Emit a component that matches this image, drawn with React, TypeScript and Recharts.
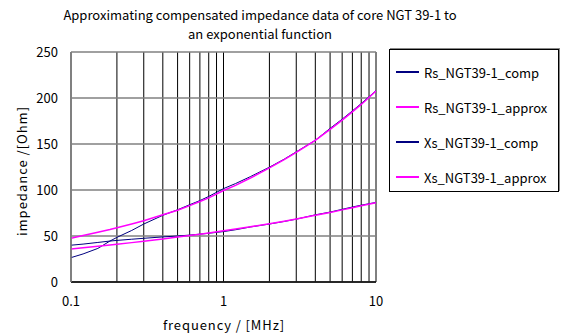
import React from 'react';
import { LineChart, Line, XAxis, YAxis, CartesianGrid } from 'recharts';

const frequencies = [0.1, 0.12, 0.15, 0.18, 0.2, 0.25, 0.3, 0.4, 0.5, 0.6, 0.7, 0.8, 1, 1.2, 1.5, 2, 2.5, 3, 4, 5, 6, 7, 8, 10];
const rsComp = [26.5, 30.5, 36.5, 44.5, 48.5, 56, 63, 72.5, 78.5, 84, 88.5, 93, 101.5, 107, 114.5, 124.8, 133.5, 141.5, 154, 167, 177, 186, 194, 208];
const rsApprox = [47.5, 50.5, 54, 57, 59, 63, 66.5, 73, 78, 83, 87.5, 91.5, 99.5, 105, 113, 124, 133, 141, 154, 166, 176, 185, 193, 207.5];
const xsComp = [40, 41.2, 43, 44.5, 45.2, 46.5, 47.5, 49, 50, 51, 52, 53, 54.8, 56.8, 59.8, 63, 65.8, 68.3, 73, 76, 79, 81.5, 83.5, 86.5];
const xsApprox = [35.8, 37.3, 38.9, 40.2, 41.0, 42.8, 44.3, 46.8, 48.8, 50.5, 52.0, 53.3, 55.6, 57.5, 60.0, 63.4, 66.1, 68.4, 72.5, 75.6, 78.4, 80.8, 82.8, 86.2];

const xGridTicks = [0.1, 0.2, 0.3, 0.4, 0.5, 0.6, 0.7, 0.8, 0.9, 1, 2, 3, 4, 5, 6, 7, 8, 9, 10];
const xMajorTicks = [0.1, 1, 10];
const xTickLabels = ['0.1', '1', '10'];
const yTicks = [0, 50, 100, 150, 200, 250];

const seriesNames = ['Rs_NGT39-1_comp', 'Rs_NGT39-1_approx', 'Xs_NGT39-1_comp', 'Xs_NGT39-1_approx'];
const seriesKeys = ['rsComp', 'rsApprox', 'xsComp', 'xsApprox'];
const seriesColors = ['#000080', '#FF00FF', '#000080', '#FF00FF'];
const seriesWidths = [1, 1.5, 1, 1.5];

const titleLines = ['Approximating compensated impedance data of core NGT 39-1 to', 'an exponential function'];
const xLabel = 'frequency / [MHz]';
const yLabel = 'impedance /[Ohm]';

const data = frequencies.map((f, i) => ({
  f,
  rsComp: rsComp[i],
  rsApprox: rsApprox[i],
  xsComp: xsComp[i],
  xsApprox: xsApprox[i],
}));

const FONT = '"Noto Sans CJK JP", "Noto Sans", sans-serif';

const fmtX = (v: number) => {
  const idx = xMajorTicks.findIndex((m) => Math.abs(m - v) < 1e-9);
  return idx >= 0 ? xTickLabels[idx] : '';
};

const drawOrder = [0, 2, 1, 3];

export default function App() {
  return (
    <div style={{ position: 'absolute', left: 0, top: 0, width: 567, height: 336, background: '#fff', fontFamily: FONT, color: '#000' }}>
      <LineChart width={567} height={336} data={data} margin={{ top: 52, right: 191, bottom: 24, left: 11 }}>
        <CartesianGrid horizontal={false} stroke="#000" strokeWidth={1} />
        <CartesianGrid vertical={false} stroke="#808080" strokeWidth={1.5} />
        <XAxis
          dataKey="f"
          type="number"
          scale="log"
          domain={[0.1, 10]}
          ticks={xGridTicks}
          interval={0}
          tickFormatter={fmtX}
          tickLine={false}
          tickSize={6}
          tickMargin={9}
          height={30}
          allowDataOverflow
          axisLine={{ stroke: '#000', strokeWidth: 1.5 }}
          tick={{ fill: '#000', fontSize: 13, fontFamily: FONT }}
        />
        <YAxis
          type="number"
          domain={[0, 250]}
          ticks={yTicks}
          interval={0}
          width={60}
          tickLine={false}
          tickSize={6}
          tickMargin={7}
          axisLine={{ stroke: '#808080', strokeWidth: 1.5 }}
          tick={{ fill: '#000', fontSize: 13, fontFamily: FONT }}
        />
        {drawOrder.map((i) => (
          <Line
            key={seriesKeys[i]}
            dataKey={seriesKeys[i]}
            name={seriesNames[i]}
            type="linear"
            stroke={seriesColors[i]}
            strokeWidth={seriesWidths[i]}
            dot={false}
            activeDot={false}
            isAnimationActive={false}
          />
        ))}
      </LineChart>

      {titleLines.map((t, i) => (
        <div
          key={i}
          style={{ position: 'absolute', left: 60, width: 400, top: 6 + i * 19, textAlign: 'center', fontSize: 13, lineHeight: '18px', whiteSpace: 'nowrap' }}
        >
          {t}
        </div>
      ))}

      <div style={{ position: 'absolute', left: 124, width: 200, top: 316, textAlign: 'center', fontSize: 13, letterSpacing: 0.9, lineHeight: '18px', whiteSpace: 'nowrap' }}>{xLabel}</div>

      <div
        style={{ position: 'absolute', left: 22 - 100, top: 171 - 9, width: 200, height: 18, textAlign: 'center', fontSize: 13, letterSpacing: 1, lineHeight: '18px', whiteSpace: 'nowrap', transform: 'rotate(-90deg)' }}
      >
        {yLabel}
      </div>

      <div style={{ position: 'absolute', left: 389, top: 49, width: 168, height: 141, border: '1px solid #000', boxShadow: '1px -1px 0 #888', background: '#fff' }}>
        {seriesNames.map((n, i) => (
          <div key={n} style={{ position: 'absolute', left: 6, top: 13 + i * 35, height: 18, display: 'flex', alignItems: 'center', whiteSpace: 'nowrap', fontSize: 13 }}>
            <span style={{ display: 'inline-block', width: 23, height: 2, background: seriesColors[i], marginRight: 5 }} />
            <span>{n}</span>
          </div>
        ))}
      </div>
    </div>
  );
}
